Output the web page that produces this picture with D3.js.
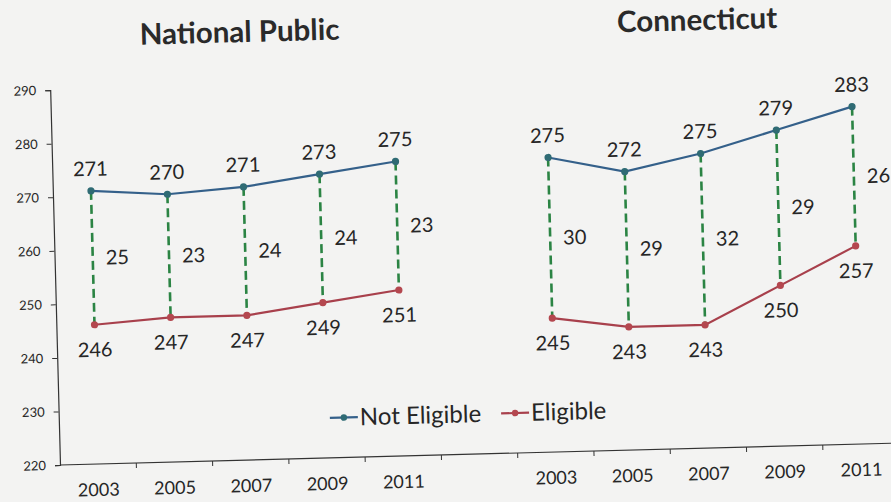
<!DOCTYPE html>
<html>
<head>
<meta charset="utf-8">
<script src="https://cdn.jsdelivr.net/npm/d3@7"></script>
<style>
  html, body { margin: 0; padding: 0; background: #f3f3f2; }
  svg { display: block; font-family: Lato, "Open Sans", sans-serif; }
</style>
</head>
<body>
<svg id="chart" width="891" height="502"></svg>
<script>
// ---- data ----
const groupTitles = ["National Public", "Connecticut"];
const years = ["2003", "2005", "2007", "2009", "2011"];
const nationalNotEligible = [271, 270, 271, 273, 275];
const nationalEligible = [246, 247, 247, 249, 251];
const nationalGap = [25, 23, 24, 24, 23];
const ctNotEligible = [275, 272, 275, 279, 283];
const ctEligible = [245, 243, 243, 250, 257];
const ctGap = [30, 29, 32, 29, 26];
const yTicks = [220, 230, 240, 250, 260, 270, 280, 290];
const seriesNames = ["Not Eligible", "Eligible"];

(function () {
// categories: 5 national years, one blank spacer, 5 Connecticut years
const categories = [...years, "", ...years];
const groups = [
  { title: groupTitles[0], start: 0, ne: nationalNotEligible, el: nationalEligible, gap: nationalGap },
  { title: groupTitles[1], start: 6, ne: ctNotEligible, el: ctEligible, gap: ctGap }
];

const colors = { ne: "#34608a", neDot: "#2f6b74", el: "#a8404c", elDot: "#b4474f", gap: "#2b8444", text: "#262626" };

const svg = d3.select("#chart");
const pLeft = 60, pBottom = 465, pTop = 90, step = 76.3;
const pRight = pLeft + step * categories.length;

const x = d3.scaleBand().domain(d3.range(categories.length)).range([pLeft, pRight]).padding(0);
const y = d3.scaleLinear().domain([220, 290]).range([pBottom, pTop]);
const cx = i => x(i) + x.bandwidth() / 2;

// the scanned chart is tilted slightly
const g = svg.append("g").attr("transform", `rotate(-1.5, ${pLeft}, ${pBottom})`);

// y axis
const yAxis = g.append("g").attr("transform", `translate(${pLeft},0)`)
  .call(d3.axisLeft(y).tickValues(yTicks).tickSize(5).tickPadding(9).tickFormat(d3.format("d")));
yAxis.select(".domain").attr("stroke", "#333").attr("stroke-width", 1.2);
yAxis.selectAll(".tick line").attr("stroke", "#333");
yAxis.selectAll(".tick text").attr("font-size", 13).attr("fill", colors.text).attr("font-family", "Lato, sans-serif");

// x axis
const xAxisG = g.append("g");
xAxisG.append("line").attr("x1", pLeft).attr("x2", pRight).attr("y1", pBottom).attr("y2", pBottom)
  .attr("stroke", "#333").attr("stroke-width", 1.2);
xAxisG.selectAll("line.tk").data(d3.range(1, categories.length + 1)).join("line")
  .attr("class", "tk")
  .attr("x1", i => x(i - 1) + x.bandwidth()).attr("x2", i => x(i - 1) + x.bandwidth())
  .attr("y1", pBottom).attr("y2", pBottom + 5).attr("stroke", "#333");
xAxisG.selectAll("text").data(categories).join("text")
  .attr("x", (d, i) => cx(i)).attr("y", pBottom + 32)
  .attr("text-anchor", "middle").attr("font-size", 18).attr("fill", colors.text)
  .text(d => d);

const line = d3.line().x(d => cx(d.i)).y(d => y(d.v));

groups.forEach(grp => {
  const ne = grp.ne.map((v, k) => ({ i: grp.start + k, v }));
  const el = grp.el.map((v, k) => ({ i: grp.start + k, v }));

  // title
  g.append("text")
    .attr("x", (cx(grp.start) + cx(grp.start + 4)) / 2).attr("y", 47)
    .attr("text-anchor", "middle").attr("font-size", 29.5).attr("font-weight", 700)
    .attr("fill", "#2a2a2a").text(grp.title);

  // dashed gap lines
  g.selectAll(null).data(ne).join("line")
    .attr("x1", d => cx(d.i)).attr("x2", d => cx(d.i))
    .attr("y1", d => y(d.v)).attr("y2", (d, k) => y(el[k].v))
    .attr("stroke", colors.gap).attr("stroke-width", 2.6).attr("stroke-dasharray", "9,5");

  // series lines
  g.append("path").datum(ne).attr("d", line).attr("fill", "none")
    .attr("stroke", colors.ne).attr("stroke-width", 2.2);
  g.append("path").datum(el).attr("d", line).attr("fill", "none")
    .attr("stroke", colors.el).attr("stroke-width", 2.2);

  // markers
  g.selectAll(null).data(ne).join("circle")
    .attr("cx", d => cx(d.i)).attr("cy", d => y(d.v)).attr("r", 3.6).attr("fill", colors.neDot);
  g.selectAll(null).data(el).join("circle")
    .attr("cx", d => cx(d.i)).attr("cy", d => y(d.v)).attr("r", 3.6).attr("fill", colors.elDot);

  // value labels
  g.selectAll(null).data(ne).join("text")
    .attr("x", d => cx(d.i)).attr("y", d => y(d.v) - 15)
    .attr("text-anchor", "middle").attr("font-size", 20).attr("fill", colors.text)
    .text(d => d.v);
  g.selectAll(null).data(el).join("text")
    .attr("x", d => cx(d.i)).attr("y", d => y(d.v) + 32)
    .attr("text-anchor", "middle").attr("font-size", 20).attr("fill", colors.text)
    .text(d => d.v);

  // gap labels
  g.selectAll(null).data(ne).join("text")
    .attr("x", d => cx(d.i) + 13)
    .attr("y", (d, k) => (y(d.v) + y(el[k].v)) / 2 + 7)
    .attr("font-size", 20).attr("fill", colors.text)
    .text((d, k) => grp.gap[k]);
});

// legend
const legend = g.append("g").attr("transform", "translate(331,425)");
let lx = 0;
seriesNames.forEach((name, k) => {
  const c = k === 0 ? colors.ne : colors.el;
  const cd = k === 0 ? colors.neDot : colors.elDot;
  legend.append("line").attr("x1", lx).attr("x2", lx + 28).attr("y1", 0).attr("y2", 0)
    .attr("stroke", c).attr("stroke-width", 2.2);
  legend.append("circle").attr("cx", lx + 14).attr("cy", 0).attr("r", 3.2).attr("fill", cd);
  const t = legend.append("text").attr("x", lx + 30).attr("y", 8)
    .attr("font-size", 24).attr("fill", colors.text).text(name);
  lx += 30 + t.node().getComputedTextLength() + 20;
});
})();
</script>
</body>
</html>
